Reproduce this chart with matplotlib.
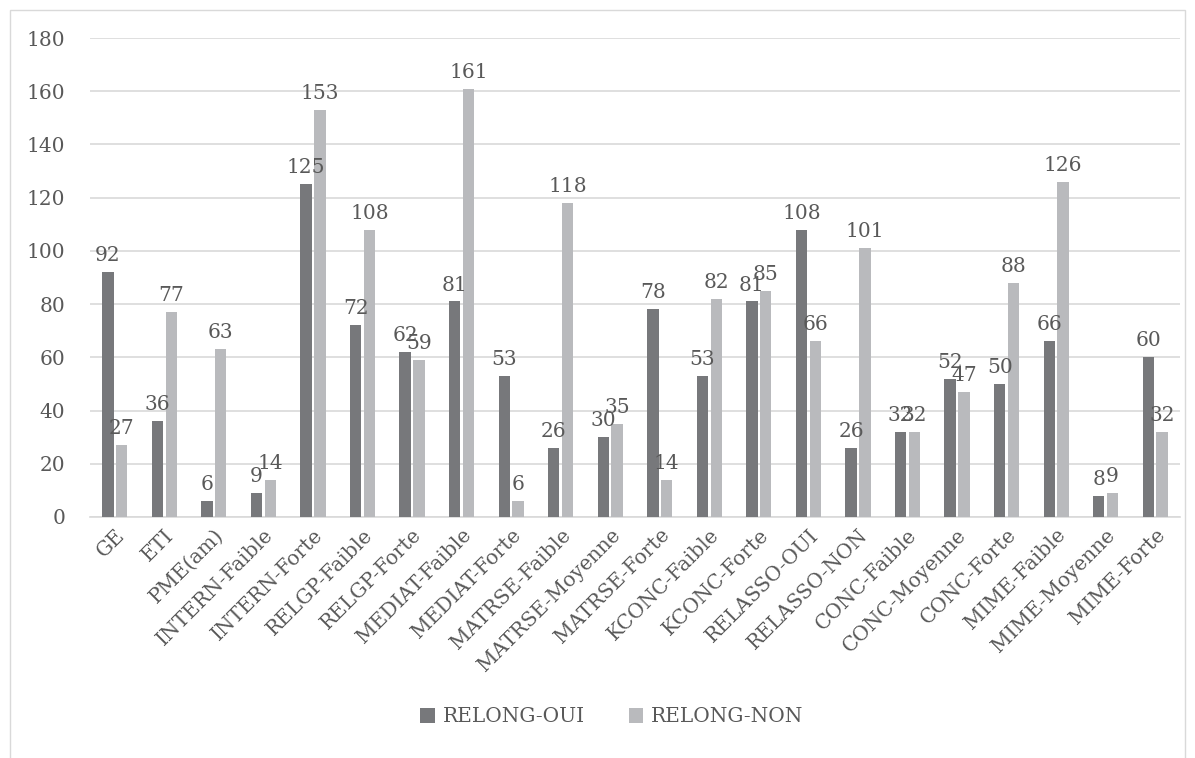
import matplotlib.pyplot as plt
import matplotlib.patches as mpatches
import numpy as np

categories = ['GE', 'ETI', 'PME(am)', 'INTERN-Faible', 'INTERN-Forte', 'RELGP-Faible',
              'RELGP-Forte', 'MEDIAT-Faible', 'MEDIAT-Forte', 'MATRSE-Faible',
              'MATRSE-Moyenne', 'MATRSE-Forte', 'KCONC-Faible', 'KCONC-Forte',
              'RELASSO-OUI', 'RELASSO-NON', 'CONC-Faible', 'CONC-Moyenne',
              'CONC-Forte', 'MIME-Faible', 'MIME-Moyenne', 'MIME-Forte']
relong_oui = [92, 36, 6, 9, 125, 72, 62, 81, 53, 26, 30, 78, 53, 81, 108, 26, 32, 52, 50, 66, 8, 60]
relong_non = [27, 77, 63, 14, 153, 108, 59, 161, 6, 118, 35, 14, 82, 85, 66, 101, 32, 47, 88, 126, 9, 32]

plt.rcParams['font.family'] = ['DejaVu Serif']
txt = '#595959'
c_dark = '#77787b'
c_light = '#b9babd'
fs = 14.5

fig = plt.figure(figsize=(11.95, 7.58), dpi=100)
ax = fig.add_axes([90 / 1195, 1 - 517 / 758, 1090 / 1195, 479 / 758])

# outer chart frame
fig.patches.append(mpatches.Rectangle((10 / 1195, -0.1), 1175 / 1195, 1 - 10 / 758 + 0.1,
                                      transform=fig.transFigure, fill=False,
                                      edgecolor='#d9d9d9', linewidth=1))

x = np.arange(len(categories))
w = 0.23
b1 = ax.bar(x - 0.14, relong_oui, w, color=c_dark, label='RELONG-OUI', zorder=3)
b2 = ax.bar(x + 0.14, relong_non, w, color=c_light, label='RELONG-NON', zorder=3)

for bars in (b1, b2):
    for r in bars:
        ax.annotate(f'{int(r.get_height())}', (r.get_x() + r.get_width() / 2, r.get_height()),
                    xytext=(0, 5), textcoords='offset points', ha='center', va='bottom',
                    fontsize=fs, color=txt)

ax.set_xlim(-0.5, len(categories) - 0.5)
ax.set_ylim(0, 180)
ax.set_yticks(range(0, 181, 20))
ax.yaxis.grid(True, color='#d9d9d9', linewidth=1.2, zorder=0)
ax.set_xticks(x)
ax.set_xticklabels(categories, rotation=45, ha='right', rotation_mode='anchor')
ax.tick_params(axis='both', length=0, labelsize=fs, labelcolor=txt)
ax.tick_params(axis='y', pad=18)
ax.tick_params(axis='x', pad=6)
for s in ['top', 'right', 'left']:
    ax.spines[s].set_visible(False)
ax.spines['bottom'].set_color('#d9d9d9')
ax.spines['bottom'].set_linewidth(1.2)

fig.legend(handles=[b1, b2], loc='center', bbox_to_anchor=(612 / 1195, 1 - 717 / 758),
           ncol=2, frameon=False, fontsize=fs, labelcolor=txt,
           handlelength=0.7, handleheight=0.7, handletextpad=0.4, columnspacing=2.2)

plt.savefig('out.png', dpi=100)
